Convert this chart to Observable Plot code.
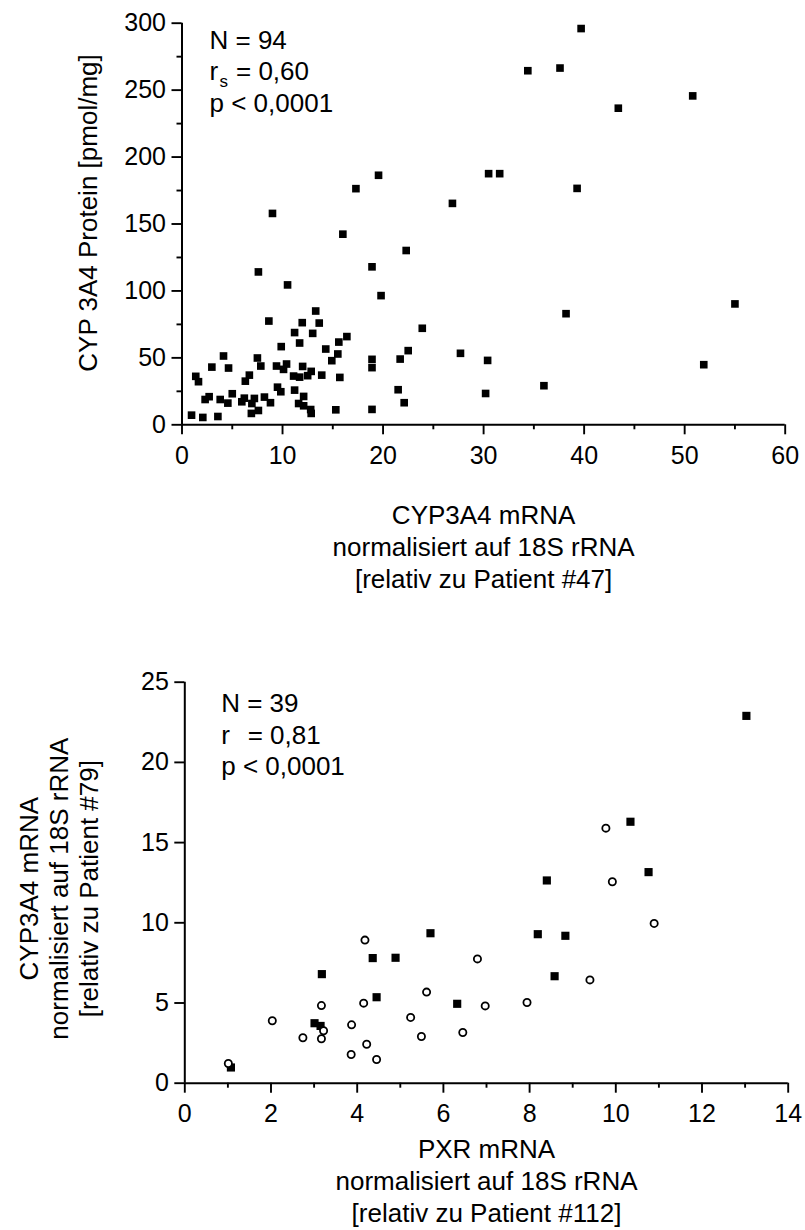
<!DOCTYPE html>
<html>
<head>
<meta charset="utf-8">
<script src="https://cdn.jsdelivr.net/npm/d3@7"></script>
<script src="https://cdn.jsdelivr.net/npm/@observablehq/plot@0.6"></script>
<style>
  html, body { margin: 0; padding: 0; background: #fff; }
  svg { display: block; }
</style>
</head>
<body>
<div id="chart"></div>
<script>
// ---------- Data: top chart (CYP3A4 mRNA vs CYP 3A4 protein) ----------
const mrnaX = [
  11.2, 13.0, 16.4, 11.7, 15.6, 9.87, 14.3, 15.5, 4.13, 7.5,
  14.9, 2.97, 4.63, 7.84, 9.4, 10.4, 10.1, 12.0, 12.85, 11.1,
  11.7, 12.5, 13.9, 15.7, 1.37, 1.64, 6.7, 6.3, 9.5, 9.83,
  11.2, 12.1, 5.0, 2.7, 2.3, 3.8, 4.56, 5.95, 6.2, 7.2,
  6.95, 8.2, 8.8, 7.6, 6.9, 11.6, 12.1, 12.8, 12.85, 15.3,
  0.95, 2.07, 3.57,
  10.5, 19.8, 13.3, 13.65, 11.96, 8.64,
  38.2, 55.0, 23.9, 22.5, 21.7, 27.7, 30.4, 51.9, 21.5, 22.1,
  30.2, 36.0, 18.9, 18.9, 18.9,
  19.55, 17.3, 30.5, 31.6, 26.9, 9.0, 16.0, 22.3, 7.6, 18.9,
  34.4, 37.6, 39.7, 43.4, 50.8, 39.3
];
const proteinY = [
  68.9, 68.3, 65.9, 61.1, 61.8, 58.4, 56.6, 52.9, 51.4, 49.9,
  47.9, 43.1, 42.4, 43.9, 43.9, 45.4, 41.4, 43.6, 39.9, 36.4,
  35.6, 36.7, 37.1, 35.4, 36.2, 32.2, 37.1, 32.6, 28.1, 24.7,
  25.9, 21.2, 23.2, 21.0, 18.9, 18.9, 16.2, 17.2, 19.9, 19.7,
  15.9, 20.7, 16.5, 10.7, 8.5, 15.9, 14.2, 11.4, 8.5, 11.2,
  7.2, 5.5, 6.2,
  104.5, 96.5, 85.0, 76.0, 76.3, 77.5,
  83.0, 90.3, 72.1, 55.4, 49.1, 53.4, 48.1, 44.9, 26.2, 16.5,
  23.4, 29.2, 48.9, 42.7, 11.5,
  186.4, 176.4, 187.6, 187.6, 165.4, 157.9, 142.4, 130.2, 114.2, 118.0,
  264.5, 266.5, 296.0, 236.5, 245.7, 176.6
];
const topXMajor = [0, 10, 20, 30, 40, 50, 60];
const topXMinor = [5, 15, 25, 35, 45, 55];
const topYMajor = [0, 50, 100, 150, 200, 250, 300];
const topYMinor = [25, 75, 125, 175, 225, 275];
const topXLabel = "CYP3A4 mRNA\nnormalisiert auf 18S rRNA\n[relativ zu Patient #47]";
const topYLabel = "CYP 3A4 Protein [pmol/mg]";
const topStatN = "N = 94";
const topStatR = "= 0,60";
const topStatP = "p < 0,0001";

// ---------- Data: bottom chart (PXR mRNA vs CYP3A4 mRNA) ----------
const squareX = [1.07, 3.01, 3.15, 3.18, 4.36, 4.89, 5.70, 4.45, 6.32,
                 13.03, 10.34, 10.76, 8.40, 8.19, 8.83, 8.58];
const squareY = [0.98, 3.74, 3.57, 6.80, 7.80, 7.82, 9.35, 5.36, 4.95,
                 22.9, 16.3, 13.16, 12.64, 9.29, 9.19, 6.67];
const circleX = [1.01, 2.03, 2.74, 3.17, 3.22, 3.17, 4.18, 3.87, 3.86, 4.15,
                 4.22, 4.45, 5.24, 5.49, 5.61, 6.45, 6.79, 6.97,
                 9.77, 9.92, 10.89, 9.40, 7.94];
const circleY = [1.23, 3.89, 2.83, 4.84, 3.27, 2.77, 8.92, 3.64, 1.79, 4.99,
                 2.43, 1.48, 4.10, 2.91, 5.68, 3.16, 7.75, 4.82,
                 15.9, 12.56, 9.96, 6.44, 5.03];
const botXMajor = [0, 2, 4, 6, 8, 10, 12, 14];
const botXMinor = [1, 3, 5, 7, 9, 11, 13];
const botYMajor = [0, 5, 10, 15, 20, 25];
const botXLabel = "PXR mRNA\nnormalisiert auf 18S rRNA\n[relativ zu Patient #112]";
const botYLabel = "CYP3A4 mRNA\nnormalisiert auf 18S rRNA\n[relativ zu Patient #79]";
const botStatN = "N = 39";
const botStatR = "= 0,81";
const botStatP = "p < 0,0001";

// ---------- Rendering ----------
const FONT = "'Liberation Sans', Arial, Helvetica, sans-serif";
const TICK_FS = 25;
const LABEL_FS = 26;
const AXIS_SW = 1.9;

function axes(xMajor, xMinor, yMajor, yMinor) {
  const m = [];
  if (xMinor) m.push(Plot.axisX(xMinor, {tickSize: 5, strokeWidth: AXIS_SW, tickFormat: () => "", label: null}));
  m.push(Plot.axisX(xMajor, {tickSize: 10, tickPadding: 11, strokeWidth: AXIS_SW, fontSize: TICK_FS, label: null}));
  if (yMinor) m.push(Plot.axisY(yMinor, {tickSize: 5, strokeWidth: AXIS_SW, tickFormat: () => "", label: null}));
  m.push(Plot.axisY(yMajor, {tickSize: 10, tickPadding: 6, strokeWidth: AXIS_SW, fontSize: TICK_FS, label: null}));
  m.push(Plot.ruleY([0], {strokeWidth: 2}));
  m.push(Plot.ruleX([0], {strokeWidth: 2}));
  return m;
}

function stats(dx, dy0, step, n, r, sub, p) {
  const t = {frameAnchor: "top-left", textAnchor: "start", lineAnchor: "bottom", fill: "black", fontSize: LABEL_FS};
  const m = [
    Plot.text([n], {...t, text: d => d, dx, dy: dy0}),
    Plot.text(["r"], {...t, text: d => d, dx, dy: dy0 + step}),
    Plot.text([r], {...t, text: d => d, dx: dx + 26.5, dy: dy0 + step}),
    Plot.text([p], {...t, text: d => d, dx, dy: dy0 + 2 * step})
  ];
  if (sub) m.push(Plot.text([sub], {...t, fontSize: 17, text: d => d, dx: dx + 10, dy: dy0 + step + 7}));
  return m;
}

const topRows = mrnaX.map((x, i) => ({x, y: proteinY[i]}));

const topPlot = Plot.plot({
  width: 805, height: 615,
  marginLeft: 181.5, marginRight: 20.3, marginTop: 22.7, marginBottom: 190.7,
  style: {fontFamily: FONT, fontSize: TICK_FS + "px", color: "black", background: "white", overflow: "visible"},
  x: {domain: [0, 60]},
  y: {domain: [0, 300]},
  marks: [
    ...axes(topXMajor, topXMinor, topYMajor, topYMinor),
    Plot.dot(topRows, {x: "x", y: "y", symbol: "square", r: 4.3, fill: "black", stroke: "none"}),
    Plot.text([topXLabel], {frameAnchor: "bottom", text: d => d, dy: 76, lineAnchor: "top", textAnchor: "middle", lineHeight: 32 / LABEL_FS, fontSize: LABEL_FS, fill: "black"}),
    Plot.text([topYLabel], {frameAnchor: "left", text: d => d, dx: -93, dy: -11, rotate: -90, lineAnchor: "middle", textAnchor: "middle", fontSize: LABEL_FS, fill: "black"}),
    ...stats(27.5, 25.6, 31.4, topStatN, topStatR, "s", topStatP)
  ]
});

const squareRows = squareX.map((x, i) => ({x, y: squareY[i]}));
const circleRows = circleX.map((x, i) => ({x, y: circleY[i]}));

const botPlot = Plot.plot({
  width: 805, height: 615,
  marginLeft: 184.3, marginRight: 17.3, marginTop: 66.7, marginBottom: 147.3,
  style: {fontFamily: FONT, fontSize: TICK_FS + "px", color: "black", background: "white", overflow: "visible"},
  x: {domain: [0, 14]},
  y: {domain: [0, 25]},
  marks: [
    ...axes(botXMajor, botXMinor, botYMajor, null),
    Plot.dot(squareRows, {x: "x", y: "y", symbol: "square", r: 4.6, fill: "black", stroke: "none"}),
    Plot.dot(circleRows, {x: "x", y: "y", symbol: "circle", r: 3.6, fill: "white", stroke: "black", strokeWidth: 1.8}),
    Plot.text([botXLabel], {frameAnchor: "bottom", text: d => d, dy: 52, lineAnchor: "top", textAnchor: "middle", lineHeight: 32 / LABEL_FS, fontSize: LABEL_FS, fill: "black"}),
    Plot.text([botYLabel], {frameAnchor: "left", text: d => d, dx: -126.3, dy: 6, rotate: -90, lineAnchor: "middle", textAnchor: "middle", lineHeight: 30 / LABEL_FS, fontSize: LABEL_FS, fill: "black"}),
    ...stats(36.4, 30, 31.6, botStatN, botStatR, null, botStatP)
  ]
});

const root = document.getElementById("chart");
root.appendChild(topPlot);
root.appendChild(botPlot);
</script>
</body>
</html>
